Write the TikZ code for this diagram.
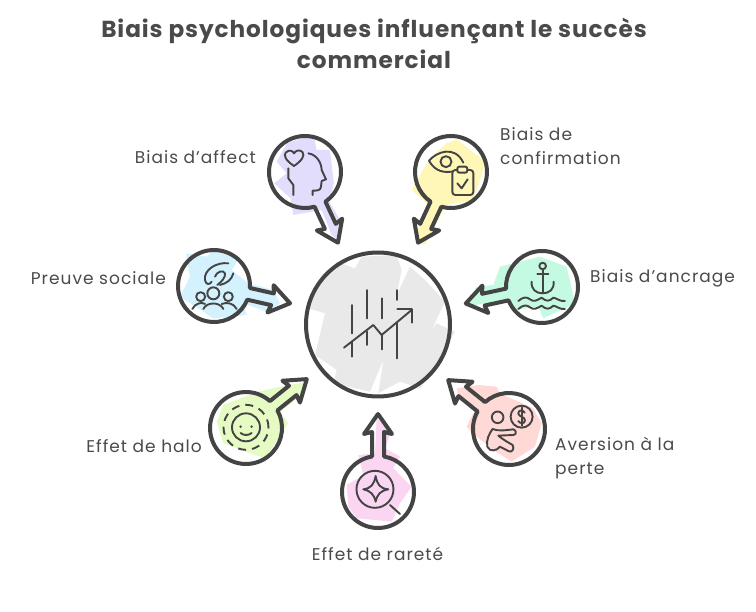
\documentclass[tikz,border=0pt]{standalone}
\usepackage{fontspec}
\setmainfont{Poppins}[LetterSpace=6]
\newfontfamily\titlefont{Poppins}[LetterSpace=4]
\usetikzlibrary{calc}
\definecolor{ink}{HTML}{444444}
\definecolor{txt}{HTML}{4A4A4A}
\tikzset{
  x=1pt,y=-1pt,
  label text/.style={font=\fontsize{17}{24}\selectfont,text=txt,inner sep=0pt,align=left},
  title text/.style={font=\titlefont\bfseries\fontsize{23.2}{31}\selectfont,text=txt,inner sep=0pt,align=center},
  anchor dot/.style={circle,inner sep=0pt,minimum size=72pt},
  outline/.style={draw=ink,line width=4pt,line join=round},
  icon/.style={draw=ink,line width=1.9pt,line cap=round,line join=round},
  zoomed/.style 2 args={shift={(#1,#2)},x=0.3333pt,y=-0.3333pt},
}
\newcommand{\keyhole}[2]{% node, angle
  \begin{scope}[shift={(#1.center)},rotate=#2]
    \draw[outline] (35.5pt,6pt) arc[start angle=9.6,end angle=350.4,radius=36pt]
      -- (60pt,-6pt) -- (58pt,-14pt) -- (78pt,0pt) -- (58pt,14pt) -- (60pt,6pt) -- cycle;
  \end{scope}}
\begin{document}
\begin{tikzpicture}
\useasboundingbox (0,0) rectangle (756,612);
% colour patches
\begin{scope}[zoomed={250}{120}]
\fill[color={rgb,255:red,227;green,221;blue,253}] (80,125)--(110,70)--(190,42)--(200,90)--(240,90)--(255,220)--(235,240)--(270,300)--(270,365)--(245,345)--(215,270)--(130,285)--(122,235)--(72,190)--(110,160)--cycle;
\fill[color={rgb,255:red,255;green,247;blue,184}] (545,110)--(590,70)--(620,58)--(700,120)--(700,150)--(670,240)--(590,255)--(565,300)--(525,375)--(495,355)--(530,250)--(485,210)--(530,130)--cycle;
\end{scope}
\begin{scope}[zoomed={160}{240}]
\fill[color={rgb,255:red,212;green,241;blue,254}] (78,40)--(140,50)--(160,30)--(240,50)--(215,90)--(265,130)--(340,150)--(360,190)--(320,215)--(250,190)--(260,225)--(160,235)--(130,215)--(60,170)--(90,110)--cycle;
\end{scope}
\begin{scope}[zoomed={300}{245}]
\fill[color={rgb,255:red,233;green,233;blue,233}] (25,190)--(75,205)--(45,330)--(110,375)--(100,415)--(210,440)--(250,345)--(235,445)--(300,410)--(360,430)--(400,380)--(465,260)--(410,235)--(395,255)--(435,170)--(375,105)--(330,65)--(290,150)--(305,75)--(290,30)--(185,35)--(165,70)--(110,50)--(40,140)--cycle;
\end{scope}
\begin{scope}[zoomed={460}{240}]
\fill[color={rgb,255:red,196;green,249;blue,226}] (120,80)--(240,50)--(320,80)--(345,190)--(250,235)--(235,200)--(160,210)--(145,180)--(15,200)--(50,140)--(100,135)--cycle;
\end{scope}
\begin{scope}[zoomed={200}{375}]
\fill[color={rgb,255:red,230;green,251;blue,195}] (50,140)--(70,90)--(175,50)--(240,35)--(325,20)--(305,60)--(240,110)--(265,145)--(195,250)--(150,235)--(70,205)--cycle;
\fill[color={rgb,255:red,251;green,214;blue,242}] (475,240)--(525,235)--(530,130)--(545,140)--(570,180)--(555,220)--(600,245)--(580,280)--(635,335)--(600,385)--(575,440)--(470,430)--(445,395)--(440,330)--(490,300)--cycle;
\fill[color={rgb,255:red,255;green,217;blue,214}] (800,155)--(830,95)--(780,75)--(770,40)--(835,30)--(890,35)--(900,55)--(1000,100)--(1025,145)--(1005,215)--(935,260)--(880,225)--(830,185)--cycle;
\end{scope}
% white gaps in the colour
\begin{scope}[zoomed={250}{120}]
\fill[white] (238,90)--(262,140)--(245,220)--(270,210)--(280,120)--cycle;
\fill[white] (640,60)--(700,60)--(710,115)--cycle;
\end{scope}
% circles
\node[anchor dot] (aff) at (305,172) {};
\node[anchor dot] (con) at (451,172) {};
\node[anchor dot] (pre) at (214,286) {};
\node[anchor dot] (anc) at (542,287) {};
\node[anchor dot] (hal) at (246,428) {};
\node[anchor dot] (rar) at (378,492) {};
\node[anchor dot] (per) at (509,429) {};
\node[circle,draw=ink,line width=4pt,inner sep=0pt,minimum size=144pt] (ctr) at (378,324.5) {};
\keyhole{aff}{-65}
\keyhole{con}{-115}
\keyhole{pre}{-12.8}
\keyhole{anc}{-167.8}
\keyhole{hal}{38.8}
\keyhole{rar}{90}
\keyhole{per}{141.2}
% icon: affect
\begin{scope}[zoomed={250}{120},icon]
\draw[icon] (132,138) .. controls (105,120) and (100,105) .. (108,97) .. controls (118,88) and (128,92) .. (132,100) .. controls (138,90) and (150,88) .. (158,97) .. controls (165,108) and (155,122) .. (132,138) -- cycle;
\draw[icon] (115,145) -- (115,175) -- (130,195) -- (130,225);
\draw[icon] (175,100) .. controls (205,105) and (215,135) .. (215,150) -- (228,178) -- (215,183) -- (213,200) .. controls (213,212) and (200,212) .. (188,212) -- (188,225);
% icon: confirmation
\draw[icon] (605,155) .. controls (570,160) and (550,145) .. (537,122) .. controls (560,95) and (615,75) .. (640,128);
\draw[icon] (588,125) circle[radius=5.5pt];
\draw[icon,rounded corners=3pt] (622,150) -- (607,150) -- (607,225) -- (670,225) -- (670,150) -- (652,150);
\draw[icon,rounded corners=2pt] (622,140) rectangle (652,158);
\draw[icon] (622,190) -- (635,205) -- (653,178);
\end{scope}
% icon: preuve sociale + centre
\begin{scope}[zoomed={160}{240}]
\draw[icon] (160,160) circle[radius=6pt];
\draw[icon] (122,170) circle[radius=4.5pt];
\draw[icon] (205,170) circle[radius=4.5pt];
\draw[icon] (130,207) .. controls (140,185) and (180,185) .. (190,207);
\draw[icon] (97,207) .. controls (105,190) and (125,185) .. (135,192);
\draw[icon] (185,192) .. controls (200,185) and (222,190) .. (230,207);
\draw[icon] (205,70) .. controls (170,65) and (130,90) .. (135,120) .. controls (137,135) and (150,135) .. (155,125);
\draw[icon] (165,110) .. controls (170,95) and (190,88) .. (195,100) .. controls (197,112) and (185,125) .. (172,135);
\draw[icon] (220,100) .. controls (215,120) and (200,130) .. (180,135);
\foreach \a/\b/\c in {575/195/280,575/305/350,620/150/235,620/275/315,665/175/235,665/285/328,710/150/180,712/250/355}
  \draw[icon] (\a,\b) -- (\a,\c);
\draw[icon] (552,323) -- (640,255) -- (665,285) -- (755,210);
\draw[icon] (712,208) -- (755,208) -- (755,248);
\end{scope}
% icon: anchor
\begin{scope}[zoomed={460}{240}]
\draw[icon] (248,78) circle[radius=3.3pt];
\draw[icon] (248,88) -- (248,158);
\draw[icon] (232,103) -- (265,103);
\draw[icon] (215,125) .. controls (213,148) and (228,160) .. (248,160) .. controls (268,160) and (283,148) .. (281,125);
\draw[icon] (175,183) .. controls (190,170) and (200,170) .. (210,178) .. controls (222,188) and (232,180) .. (245,173) .. controls (258,185) and (268,185) .. (280,173) .. controls (292,175) and (300,185) .. (315,183);
\draw[icon] (175,207) .. controls (190,194) and (200,194) .. (210,202) .. controls (222,212) and (232,204) .. (245,197) .. controls (258,209) and (268,209) .. (280,197) .. controls (292,199) and (300,209) .. (315,207);
\end{scope}
% icons: bottom row
\begin{scope}[zoomed={200}{375}]
\draw[icon] (138,157) circle[radius=14pt];
\draw[icon,line cap=butt,dash pattern=on 8pt off 6pt] (138,157) circle[radius=22.5pt];
\fill[ink] (122,155) circle[radius=1.4pt] (155,155) circle[radius=1.4pt];
\draw[icon] (122,174) .. controls (130,182) and (146,182) .. (155,174);
\draw[icon] (525,343) circle[radius=18.5pt];
\draw[icon] (527,303) .. controls (532,330) and (540,340) .. (565,343) .. controls (540,348) and (532,358) .. (527,380) .. controls (522,358) and (512,348) .. (490,343) .. controls (512,340) and (522,330) .. (527,303) -- cycle;
\draw[icon] (570,390) -- (600,417);
\draw[icon] (965,125) circle[radius=11pt];
\draw[icon] (893,127) circle[radius=5.8pt];
\draw[icon] (974,113) .. controls (970,104) and (955,104) .. (955,115) .. controls (955,125) and (975,125) .. (975,136) .. controls (975,147) and (960,147) .. (955,138);
\draw[icon] (965,98) -- (965,152);
\draw[icon] (878,162) .. controls (900,170) and (920,165) .. (940,163) .. controls (950,165) and (950,180) .. (940,180) -- (895,182) .. controls (910,195) and (930,205) .. (938,210) .. controls (945,222) and (935,235) .. (925,228) -- (900,215) .. controls (890,228) and (870,232) .. (862,215) .. controls (858,195) and (868,175) .. (878,162) -- cycle;
\end{scope}
% text
\node[title text] (title) at (374,43.5) {Biais psychologiques influençant le succès\\commercial};
\node[label text,anchor=east] (laff) at (256,157) {Biais d'affect};
\node[label text,anchor=west] (lcon) at (500,146) {Biais de\\confirmation};
\node[label text,anchor=west] (lanc) at (590,278) {Biais d'ancrage};
\node[label text,anchor=east] (lpre) at (166,278) {Preuve sociale};
\node[label text,anchor=east] (lhal) at (202,446) {Effet de halo};
\node[label text,anchor=west] (lper) at (555,458) {Aversion à la\\perte};
\node[label text] (lrar) at (377.5,554) {Effet de rareté};
\end{tikzpicture}
\end{document}
